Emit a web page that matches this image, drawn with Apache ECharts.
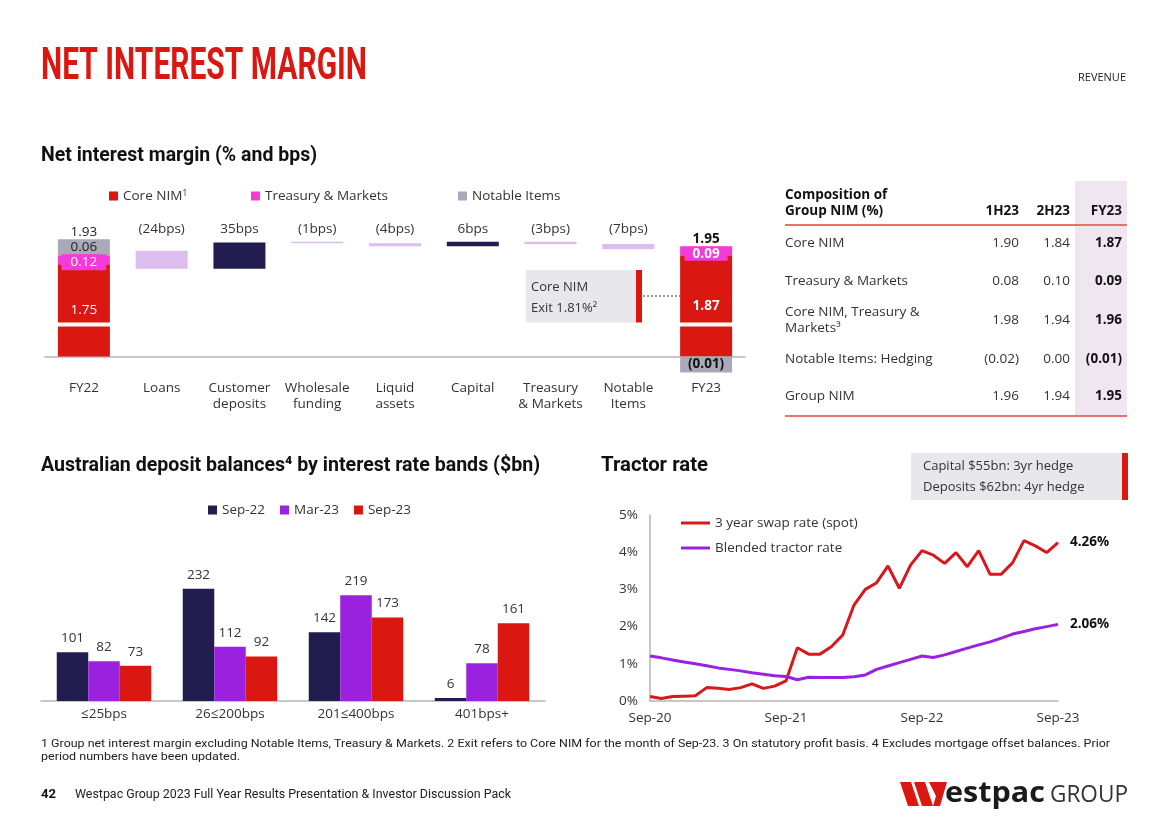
<!DOCTYPE html>
<html><head><meta charset="utf-8">
<script src="https://cdn.jsdelivr.net/npm/echarts@6/dist/echarts.min.js"></script>
<style>html,body{margin:0;padding:0;background:#fff}#c{width:1168px;height:825px}</style>
</head><body><div id="c"></div>
<script>
// ---------------- DATA ----------------
const wfCategories = ['FY22','Loans','Customer\ndeposits','Wholesale\nfunding','Liquid\nassets','Capital','Treasury\n& Markets','Notable\nItems','FY23'];
const wfStartNim = 1.93;
const wfDeltasBps = [-24, 35, -1, -4, 6, -3, -7];
const wfEndNim = 1.95;
const coreNim = [1.75, 1.87];          // FY22, FY23
const treasuryMarkets = [0.12, 0.09];  // FY22, FY23
const notableItems = [0.06, -0.01];    // FY22, FY23
const wfLegend = ['Core NIM', 'Treasury & Markets', 'Notable Items'];

const tableHeader = ['1H23', '2H23', 'FY23'];
const tableRowLabels = [['Core NIM'], ['Treasury & Markets'], ['Core NIM, Treasury &', 'Markets³'], ['Notable Items: Hedging'], ['Group NIM']];
const table1H23 = ['1.90', '0.08', '1.98', '(0.02)', '1.96'];
const table2H23 = ['1.84', '0.10', '1.94', '0.00', '1.94'];
const tableFY23 = ['1.87', '0.09', '1.96', '(0.01)', '1.95'];

const depositBands = ['≤25bps', '26≤200bps', '201≤400bps', '401bps+'];
const depositSeriesNames = ['Sep-22', 'Mar-23', 'Sep-23'];
const depSep22 = [101, 232, 142, 6];
const depMar23 = [82, 112, 219, 78];
const depSep23 = [73, 92, 173, 161];

const tractorMonths = ['Sep-20','Oct-20','Nov-20','Dec-20','Jan-21','Feb-21','Mar-21','Apr-21','May-21','Jun-21','Jul-21','Aug-21',
  'Sep-21','Oct-21','Nov-21','Dec-21','Jan-22','Feb-22','Mar-22','Apr-22','May-22','Jun-22','Jul-22','Aug-22',
  'Sep-22','Oct-22','Nov-22','Dec-22','Jan-23','Feb-23','Mar-23','Apr-23','May-23','Jun-23','Jul-23','Aug-23','Sep-23'];
const swapRate = [0.12,0.07,0.12,0.13,0.14,0.36,0.34,0.31,0.36,0.46,0.34,0.40,
  0.54,1.43,1.26,1.26,1.46,1.77,2.58,3.00,3.18,3.63,3.03,3.66,
  4.04,3.92,3.70,3.99,3.61,4.04,3.41,3.41,3.72,4.31,4.17,3.99,4.26];
const tractorRate = [1.21,1.16,1.10,1.05,1.00,0.95,0.89,0.85,0.81,0.76,0.72,0.68,
  0.66,0.57,0.64,0.63,0.63,0.63,0.65,0.70,0.85,0.94,1.03,1.12,
  1.21,1.17,1.24,1.33,1.42,1.51,1.59,1.69,1.80,1.87,1.94,2.00,2.06];
const tractorSeriesNames = ['3 year swap rate (spot)', 'Blended tractor rate'];
const tractorTicks = ['0%','1%','2%','3%','4%','5%'];

// ---------------- STYLE ----------------
const FONT = "'Open Sans', 'Noto Sans', sans-serif";
const HEAD = "Roboto, 'Liberation Sans', sans-serif";
const RED = '#da1710', PINK = '#f43ad8', GREY = '#a9a9b9', LAV = '#dcbdf0', NAVY = '#221d4f', PURPLE = '#9a22df';
const TXT = '#333';

// ---------------- DERIVED (waterfall) ----------------
const nCat = wfCategories.length;
const ends = (a, b) => { const r = new Array(nCat).fill('-'); r[0] = a; r[nCat - 1] = b; return r; };
const fmtP = v => v < 0 ? '(' + Math.abs(v).toFixed(2) + ')' : v.toFixed(2);
const wfBase = ['-'], wfDelta = ['-'];
let run = wfStartNim;
wfDeltasBps.forEach(d => {
  const next = Math.round((run + d / 100) * 10000) / 10000;
  wfBase.push(Math.min(run, next));
  wfDelta.push({ value: Math.abs(d) / 100, itemStyle: { color: d < 0 ? LAV : NAVY } });
  run = next;
});
wfBase.push('-'); wfDelta.push('-');
const bpsLabel = i => { const d = wfDeltasBps[i - 1]; return d < 0 ? '(' + (-d) + 'bps)' : d + 'bps'; };

const richTop = {
  t: { fontFamily: FONT, fontSize: 13.5, color: '#222', lineHeight: 15 },
  tb: { fontFamily: FONT, fontSize: 13.5, color: '#111', fontWeight: 'bold', lineHeight: 15 },
  v: { fontFamily: FONT, fontSize: 13.5, color: '#222', lineHeight: 15 },
  vw: { fontFamily: FONT, fontSize: 13.5, color: '#fff', fontWeight: 'bold', lineHeight: 15, backgroundColor: PINK, padding: [0, 8] }
};

const coreData = ends(
  { value: coreNim[0], label: { formatter: fmtP(coreNim[0]) } },
  { value: coreNim[1], label: { formatter: fmtP(coreNim[1]), fontWeight: 'bold' } }
);
const tmData = ends(
  { value: treasuryMarkets[0], label: { position: 'insideBottom', distance: -6, formatter: fmtP(treasuryMarkets[0]), backgroundColor: PINK, padding: [1, 9], color: '#fff' } },
  { value: treasuryMarkets[1], label: { position: 'top', distance: -15, formatter: '{tb|' + wfEndNim.toFixed(2) + '}\n{vw|' + fmtP(treasuryMarkets[1]) + '}' } }
);
const niData = ends(
  { value: notableItems[0], label: { position: 'top', distance: -15, formatter: '{t|' + wfStartNim.toFixed(2) + '}\n{v|' + fmtP(notableItems[0]) + '}' } },
  { value: notableItems[1], label: { position: 'inside', formatter: fmtP(notableItems[1]), fontWeight: 'bold', color: '#111' } }
);

// ---------------- GRAPHICS ----------------
const mctx = document.createElement('canvas').getContext('2d');
const G = [];
const txt = (text, x, y, o = {}, fitW) => {
  const style = Object.assign({ text, fill: TXT, fontFamily: FONT, fontSize: 13.5, align: 'left', verticalAlign: 'middle' }, o);
  const el = { type: 'text', x, y, z: 100, style };
  if (fitW) {
    mctx.font = (style.fontWeight || 'normal') + ' ' + style.fontSize + 'px ' + style.fontFamily;
    el.scaleX = fitW / mctx.measureText(text).width;
  }
  G.push(el);
};
const rect = (x, y, w, h, fill) => G.push({ type: 'rect', z: 90, shape: { x, y, width: w, height: h }, style: { fill } });
const line = (x1, y1, x2, y2, stroke, lw, dash) => G.push({ type: 'line', z: 95, shape: { x1, y1, x2, y2 }, style: { stroke, lineWidth: lw, lineDash: dash || null } });

txt('NET INTEREST MARGIN', 41, 68, { fontFamily: HEAD, fontWeight: 'bold', fontSize: 45, fill: RED }, 326);
txt('REVENUE', 1126, 78, { fontSize: 11, align: 'right', fill: '#222' });
txt('Net interest margin (% and bps)', 41, 156, { fontFamily: HEAD, fontWeight: 'bold', fontSize: 21, fill: '#111' }, 276);
txt('Australian deposit balances⁴ by interest rate bands ($bn)', 41, 466, { fontFamily: HEAD, fontWeight: 'bold', fontSize: 21, fill: '#111' }, 499);
txt('Tractor rate', 601, 466, { fontFamily: HEAD, fontWeight: 'bold', fontSize: 21, fill: '#111' }, 107);

// Core NIM exit callout
rect(526, 270, 110, 53, '#e8e8ec');
rect(636, 270, 6, 53, RED);
txt('Core NIM', 531, 287, { fontSize: 13 });
txt('Exit 1.81%²', 531, 308, { fontSize: 13 });
line(643, 296, 680, 296, '#333', 1, [2, 2]);

// Table
rect(1075, 181, 52, 234, '#efe6f2');
txt('Composition of', 785, 195, { fontWeight: 'bold', fill: '#111' });
txt('Group NIM (%)', 785, 211, { fontWeight: 'bold', fill: '#111' });
const colX = [1019, 1070, 1122];
tableHeader.forEach((h, i) => txt(h, colX[i], 211, { fontWeight: 'bold', fill: '#111', align: 'right' }));
line(785, 225, 1127, 225, '#e8736c', 2);
const rowY = [243, 281, 320, 359, 396];
tableRowLabels.forEach((lab, r) => {
  if (lab.length === 1) txt(lab[0], 785, rowY[r]);
  else { txt(lab[0], 785, rowY[r] - 8); txt(lab[1], 785, rowY[r] + 8); }
  txt(table1H23[r], colX[0], rowY[r], { align: 'right' });
  txt(table2H23[r], colX[1], rowY[r], { align: 'right' });
  txt(tableFY23[r], colX[2], rowY[r], { align: 'right', fontWeight: 'bold', fill: '#111' });
});
line(785, 416, 1127, 416, '#e8736c', 2);

// Hedge box
rect(911, 453, 211, 47, '#e8e8ec');
rect(1122, 453, 6, 47, RED);
txt('Capital $55bn: 3yr hedge', 923, 466, { fontSize: 13 });
txt('Deposits $62bn: 4yr hedge', 923, 487, { fontSize: 13 });

// Footer
txt('1 Group net interest margin excluding Notable Items, Treasury & Markets. 2 Exit refers to Core NIM for the month of Sep-23. 3 On statutory profit basis. 4 Excludes mortgage offset balances. Prior', 41, 744, { fontFamily: HEAD, fontSize: 11.5, fill: '#222' }, 1069);
txt('period numbers have been updated.', 41, 757, { fontFamily: HEAD, fontSize: 11.5, fill: '#222' }, 199);
txt('42', 41, 795, { fontFamily: HEAD, fontWeight: 'bold', fontSize: 13, fill: '#111' }, 15);
txt('Westpac Group 2023 Full Year Results Presentation & Investor Discussion Pack', 75, 795, { fontFamily: HEAD, fontSize: 12, fill: '#222' }, 436);
// Logo
G.push({ type: 'polygon', z: 90, shape: { points: [[900, 782], [911, 782], [919, 806], [908, 806]] }, style: { fill: RED } });
G.push({ type: 'polygon', z: 90, shape: { points: [[914, 782], [925, 782], [933, 806], [922, 806]] }, style: { fill: RED } });
G.push({ type: 'polygon', z: 90, shape: { points: [[929, 782], [947, 782], [940, 806], [933, 806], [936, 796]] }, style: { fill: RED } });
txt('estpac', 945, 794, { fontWeight: 'bold', fontSize: 28, fill: '#1b1b1b' }, 100);
txt('GROUP', 1050, 795, { fontSize: 24, fill: '#333' }, 78);

// ---------------- OPTION ----------------
const axisLbl = { fontFamily: FONT, fontSize: 13.5, color: TXT };
const option = {
  animation: false,
  backgroundColor: '#fff',
  textStyle: { fontFamily: FONT },
  legend: [
    { data: [wfLegend[0]], left: 104, top: 184, itemWidth: 9, itemHeight: 9, itemGap: 10, icon: 'rect',
      formatter: n => n + '{s|1}', textStyle: Object.assign({}, axisLbl, { rich: { s: { fontSize: 9, verticalAlign: 'top', lineHeight: 12, color: TXT } } }) },
    { data: [wfLegend[1]], left: 246, top: 184, itemWidth: 9, itemHeight: 9, icon: 'rect', textStyle: axisLbl },
    { data: [wfLegend[2]], left: 453, top: 184, itemWidth: 9, itemHeight: 9, icon: 'rect', textStyle: axisLbl },
    { data: depositSeriesNames, left: 203, top: 498, itemWidth: 9, itemHeight: 9, itemGap: 15, icon: 'rect', textStyle: axisLbl },
    { data: tractorSeriesNames, left: 676, top: 511, orient: 'vertical', icon: 'rect', itemWidth: 29, itemHeight: 3, itemGap: 11, textStyle: axisLbl }
  ],
  grid: [
    { left: 45, top: 223, width: 700, height: 156 },
    { left: 41, top: 556, width: 504, height: 145 },
    { left: 650, top: 515, width: 408, height: 186 }
  ],
  xAxis: [
    { type: 'category', gridIndex: 0, data: wfCategories, axisTick: { show: false },
      axisLine: { onZero: true, lineStyle: { color: '#b5b5b5', width: 1.5 } },
      axisLabel: Object.assign({}, axisLbl, { margin: 1, lineHeight: 16, interval: 0 }) },
    { type: 'category', gridIndex: 1, data: depositBands, axisTick: { show: false },
      axisLine: { lineStyle: { color: '#b5b5b5', width: 1.5 } },
      axisLabel: Object.assign({}, axisLbl, { margin: 6 }) },
    { type: 'category', gridIndex: 2, data: tractorMonths, boundaryGap: false, axisTick: { show: false },
      axisLine: { lineStyle: { color: '#b5b5b5', width: 1.5 } },
      axisLabel: Object.assign({}, axisLbl, { margin: 10, interval: 11 }) }
  ],
  yAxis: [
    { type: 'value', gridIndex: 0, min: -0.3, max: 2.3,
      axisLine: { show: false }, axisTick: { show: false }, axisLabel: { show: false }, splitLine: { show: false },
      breaks: [{ start: 0.40, end: 0.97, gap: '2.5%' }],
      breakArea: { show: true, zigzagAmplitude: 0, itemStyle: { color: '#fff', borderColor: '#fff', borderWidth: 0, opacity: 1 } } },
    { type: 'value', gridIndex: 1, min: 0, max: 300, show: false },
    { type: 'value', gridIndex: 2, min: 0, max: 5, interval: 1,
      axisLine: { show: true, lineStyle: { color: '#b5b5b5', width: 1.5 } }, axisTick: { show: false }, splitLine: { show: false },
      axisLabel: Object.assign({}, axisLbl, { margin: 12, formatter: v => tractorTicks[v] }) }
  ],
  series: [
    { name: 'base', type: 'bar', stack: 'wf', xAxisIndex: 0, yAxisIndex: 0, barWidth: 52, silent: true,
      itemStyle: { color: 'rgba(0,0,0,0)' }, data: wfBase },
    { name: 'delta', type: 'bar', stack: 'wf', xAxisIndex: 0, yAxisIndex: 0, barWidth: 52, barMinHeight: 1.5,
      data: wfDelta,
      labelLayout: () => ({ y: 229, align: 'center', verticalAlign: 'middle' }),
      label: { show: true, position: 'top', distance: 7, color: TXT, fontFamily: FONT, fontSize: 13.5, formatter: p => bpsLabel(p.dataIndex) } },
    { name: wfLegend[0], type: 'bar', stack: 'wf', xAxisIndex: 0, yAxisIndex: 0, barWidth: 52, itemStyle: { color: RED },
      data: coreData, label: { show: true, position: 'inside', color: '#fff', fontFamily: FONT, fontSize: 13.5 } },
    { name: wfLegend[1], type: 'bar', stack: 'wf', xAxisIndex: 0, yAxisIndex: 0, barWidth: 52, barMinHeight: 9, itemStyle: { color: PINK },
      data: tmData, label: { show: true, fontFamily: FONT, fontSize: 13.5, rich: richTop } },
    { name: wfLegend[2], type: 'bar', stack: 'wf', xAxisIndex: 0, yAxisIndex: 0, barWidth: 52, barMinHeight: 16, itemStyle: { color: GREY },
      data: niData, label: { show: true, fontFamily: FONT, fontSize: 13.5, rich: richTop } },

    { name: depositSeriesNames[0], type: 'bar', xAxisIndex: 1, yAxisIndex: 1, barGap: 0, barCategoryGap: '25%', itemStyle: { color: NAVY },
      data: depSep22, label: { show: true, position: 'top', distance: 7, color: TXT, fontFamily: FONT, fontSize: 13.5 } },
    { name: depositSeriesNames[1], type: 'bar', xAxisIndex: 1, yAxisIndex: 1, barGap: 0, barCategoryGap: '25%', itemStyle: { color: PURPLE },
      data: depMar23, label: { show: true, position: 'top', distance: 7, color: TXT, fontFamily: FONT, fontSize: 13.5 } },
    { name: depositSeriesNames[2], type: 'bar', xAxisIndex: 1, yAxisIndex: 1, barGap: 0, barCategoryGap: '25%', itemStyle: { color: RED },
      data: depSep23, label: { show: true, position: 'top', distance: 7, color: TXT, fontFamily: FONT, fontSize: 13.5 } },

    { name: tractorSeriesNames[0], type: 'line', xAxisIndex: 2, yAxisIndex: 2, data: swapRate, symbol: 'none',
      lineStyle: { color: '#d7191c', width: 3 }, itemStyle: { color: '#d7191c' },
      endLabel: { show: true, distance: 12, formatter: p => p.value.toFixed(2) + '%', fontFamily: FONT, fontWeight: 'bold', fontSize: 13.5, color: '#111' } },
    { name: tractorSeriesNames[1], type: 'line', xAxisIndex: 2, yAxisIndex: 2, data: tractorRate, symbol: 'none',
      lineStyle: { color: PURPLE, width: 3 }, itemStyle: { color: PURPLE },
      endLabel: { show: true, distance: 12, formatter: p => p.value.toFixed(2) + '%', fontFamily: FONT, fontWeight: 'bold', fontSize: 13.5, color: '#111' } }
  ],
  graphic: { elements: G }
};
const chart = echarts.init(document.getElementById('c'), null, { renderer: 'canvas' });
chart.setOption(option);
</script>
</body></html>
